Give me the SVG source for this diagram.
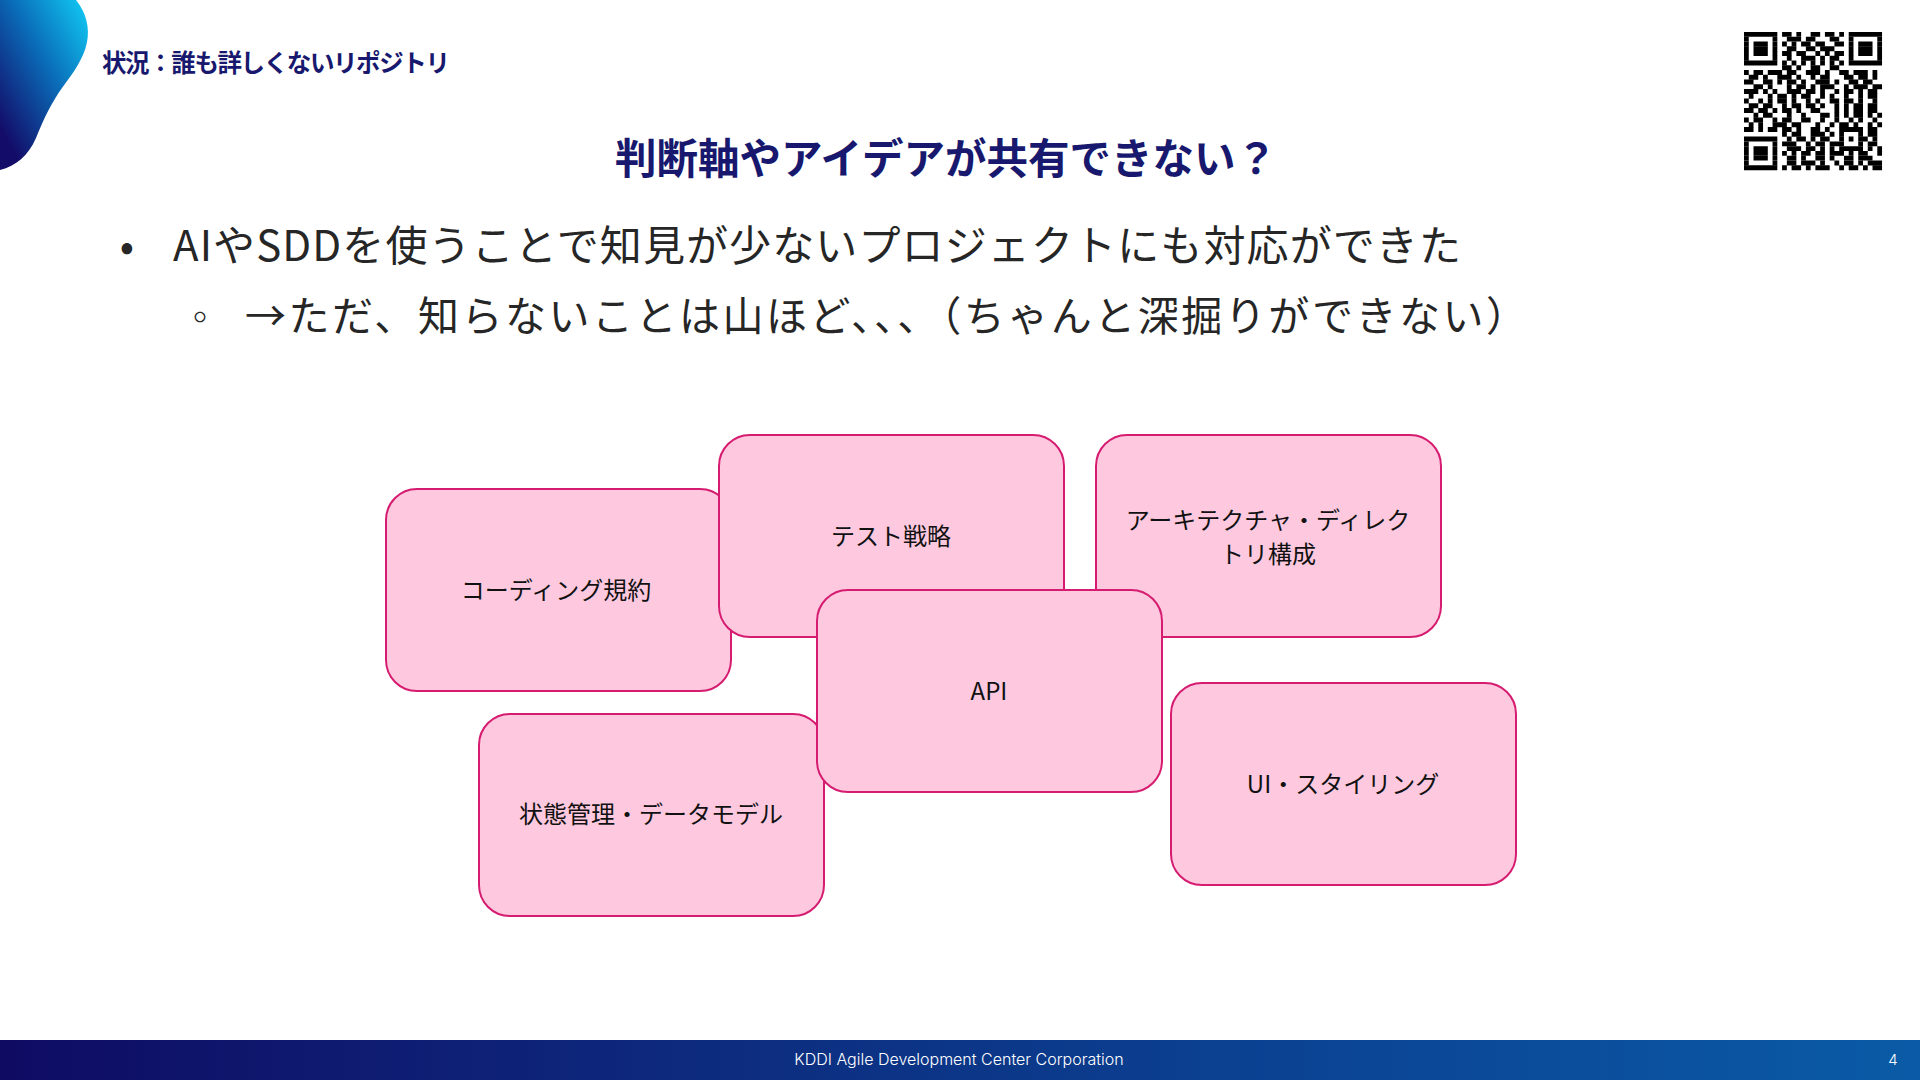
<svg xmlns="http://www.w3.org/2000/svg" width="1920" height="1080" viewBox="0 0 1920 1080">
<defs>
<linearGradient id="blob" x1="0.9" y1="0" x2="0.1" y2="0.85">
<stop offset="0" stop-color="#10c2ef"/>
<stop offset="0.45" stop-color="#0a6db9"/>
<stop offset="1" stop-color="#130c68"/>
</linearGradient>
<linearGradient id="bar" x1="0" y1="0" x2="1" y2="0">
<stop offset="0" stop-color="#0f0b63"/>
<stop offset="0.5" stop-color="#0c3688"/>
<stop offset="1" stop-color="#0a5ba7"/>
</linearGradient>
<style>
.jp{font-family:"Noto Sans CJK JP","Liberation Sans",sans-serif;}
.head{font-weight:bold;fill:#17186e;}
.body{fill:#262626;}
.box rect{fill:#fec9df;stroke:#d61c70;stroke-width:2;}
.box text{font-family:"Noto Sans CJK JP","Liberation Sans",sans-serif;font-size:24px;fill:#111;text-anchor:middle;}
.qr path{fill:none;stroke:#000;stroke-width:1.04;}
.foot{font-family:Inter,"Liberation Sans",sans-serif;fill:#fff;font-weight:300;}
</style>
</defs>
<rect width="1920" height="1080" fill="#fff"/>
<path d="M0,0 H76 C86,12 90,28 87,42 C84,58 74,72 62,88 C52,102 44,118 36,138 C28,156 16,166 0,170 Z" fill="url(#blob)"/>
<text class="jp head" x="102" y="72" font-size="24.5" letter-spacing="-1.4">状況：誰も詳しくないリポジトリ</text>
<text class="jp head" x="946" y="174" font-size="41.5" text-anchor="middle">判断軸やアイデアが共有できない？</text>
<text class="jp body" x="127" y="261" font-size="42" text-anchor="middle">•</text>
<text class="jp body" x="173" y="261" font-size="42" textLength="1288" lengthAdjust="spacing">AIやSDDを使うことで知見が少ないプロジェクトにも対応ができた</text>
<text class="jp body" x="200" y="331" font-size="36" text-anchor="middle">◦</text>
<text class="jp body" x="245" y="331" font-size="41" textLength="1282" lengthAdjust="spacing">→ただ、知らないことは山ほど、、、（ちゃんと深掘りができない）</text>
<g class="qr" transform="translate(1744,32) scale(4.76)">
<path d="M0 0.5h29" stroke-dasharray="7 1 2 1 1 2 2 1 2 1 1 1 7"/>
<path d="M0 1.5h29" stroke-dasharray="1 5 1 2 3 1 2 3 2 2 1 5 1"/>
<path d="M0 2.5h29" stroke-dasharray="1 1 3 1 1 1 1 1 1 1 2 1 2 2 2 1 1 1 3 1 1"/>
<path d="M0 3.5h29" stroke-dasharray="1 1 3 1 1 2 2 2 2 1 3 3 1 1 3 1 1"/>
<path d="M0 4.5h29" stroke-dasharray="1 1 3 1 1 1 2 1 2 2 1 1 1 1 2 1 1 1 3 1 1"/>
<path d="M0 5.5h29" stroke-dasharray="1 5 1 2 1 2 3 1 1 1 2 2 1 5 1"/>
<path d="M0 6.5h29" stroke-dasharray="7 1 1 1 1 1 1 1 1 1 1 1 1 1 1 1 7"/>
<path d="M0 7.5h29" stroke-dasharray="0 8 2 1 1 2 2 2 2 9"/>
<path d="M0 8.5h29" stroke-dasharray="1 1 2 1 3 1 2 2 3 1 1 2 2 1 3 1 1 1"/>
<path d="M0 9.5h29" stroke-dasharray="0 1 2 1 1 2 3 1 1 2 1 1 2 3 2 1 2 1 1 1"/>
<path d="M0 10.5h29" stroke-dasharray="2 2 2 1 1 1 2 1 1 2 3 1 1 2 2 1 2 2"/>
<path d="M0 11.5h29" stroke-dasharray="0 2 2 1 1 3 1 1 2 1 1 1 3 2 1 1 3 1 2"/>
<path d="M0 12.5h29" stroke-dasharray="3 1 1 1 1 2 3 1 2 1 1 2 1 1 2 1 1 1 2 1"/>
<path d="M0 13.5h29" stroke-dasharray="0 1 1 3 1 1 2 1 1 1 2 2 1 1 1 2 1 2 1 1 2 1"/>
<path d="M0 14.5h29" stroke-dasharray="1 2 1 1 1 1 2 1 1 2 1 1 1 2 2 1 2 1 1 2 1 1"/>
<path d="M0 15.5h29" stroke-dasharray="0 1 2 1 2 2 1 1 2 1 2 1 1 2 1 1 1 1 2 1 2 1"/>
<path d="M0 16.5h29" stroke-dasharray="2 1 2 1 1 1 2 1 1 2 2 3 1 1 1 1 2 1 2 1"/>
<path d="M0 17.5h29" stroke-dasharray="0 2 1 1 2 3 1 2 1 3 2 1 1 1 1 1 2 1 1 1 1"/>
<path d="M0 18.5h29" stroke-dasharray="1 1 2 2 1 1 2 2 2 2 1 2 1 2 1 1 1 2 1 1 1"/>
<path d="M0 19.5h29" stroke-dasharray="0 1 1 1 1 2 3 1 2 3 1 2 1 1 2 1 1 2 1 1 1"/>
<path d="M0 20.5h29" stroke-dasharray="2 1 1 1 2 1 2 1 1 2 2 1 1 2 5 1 2 1"/>
<path d="M0 21.5h29" stroke-dasharray="0 8 1 1 2 2 3 1 1 1 1 3 1 1 2 1"/>
<path d="M0 22.5h29" stroke-dasharray="7 2 1 1 2 1 1 1 2 2 1 1 1 1 2 1 1 1"/>
<path d="M0 23.5h29" stroke-dasharray="1 5 1 1 3 2 1 1 2 1 3 3 1 1 2 1"/>
<path d="M0 24.5h29" stroke-dasharray="1 1 3 1 1 2 3 1 2 1 1 1 1 1 5 1 1 1 1"/>
<path d="M0 25.5h29" stroke-dasharray="1 1 3 1 1 1 1 1 1 1 2 1 2 1 3 1 1 1 2 2 1"/>
<path d="M0 26.5h29" stroke-dasharray="1 1 3 1 1 2 2 1 1 2 2 1 1 2 2 1 3 2"/>
<path d="M0 27.5h29" stroke-dasharray="1 5 1 2 2 1 3 1 1 2 1 1 2 1 1 1 3"/>
<path d="M0 28.5h29" stroke-dasharray="7 1 1 1 2 1 1 1 3 2 1 1 2 1 1 1 2"/>
</g>
<g id="connectors"/>
<g id="node-coding" class="box">
<rect x="386" y="489" width="345" height="202" rx="31"/>
<text x="556" y="599">コーディング規約</text>
</g>
<g id="node-test" class="box">
<rect x="719" y="435" width="345" height="202" rx="31"/>
<text x="891" y="545">テスト戦略</text>
</g>
<g id="node-arch" class="box">
<rect x="1096" y="435" width="345" height="202" rx="31"/>
<text x="1268" y="529">アーキテクチャ・ディレク</text>
<text x="1268" y="563">トリ構成</text>
</g>
<g id="node-state" class="box">
<rect x="479" y="714" width="345" height="202" rx="31"/>
<text x="651" y="823">状態管理・データモデル</text>
</g>
<g id="node-ui" class="box">
<rect x="1171" y="683" width="345" height="202" rx="31"/>
<text x="1343" y="793">UI・スタイリング</text>
</g>
<g id="node-api" class="box">
<rect x="817" y="590" width="345" height="202" rx="31"/>
<text x="989" y="700">API</text>
</g>
<rect x="0" y="1040" width="1920" height="40" fill="url(#bar)"/>
<text class="foot" x="959" y="1065" font-size="16" text-anchor="middle">KDDI Agile Development Center Corporation</text>
<text class="foot" x="1893" y="1065" font-size="15" text-anchor="middle">4</text>
</svg>
